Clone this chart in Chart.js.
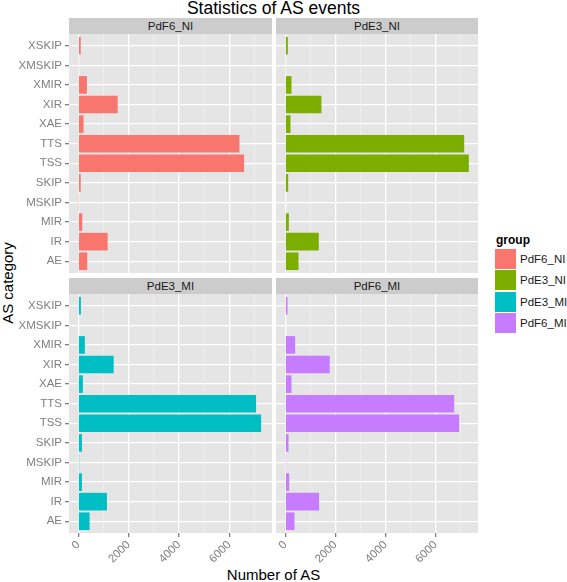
<!DOCTYPE html>
<html>
<head>
<meta charset="utf-8">
<script src="https://cdn.jsdelivr.net/npm/chart.js@4.4.1/dist/chart.umd.min.js"></script>
<style>
  body { margin: 0; width: 567px; height: 582px; position: relative; overflow: hidden; background: #fff;
         font-family: "Liberation Sans", Arial, sans-serif; }
  canvas { position: absolute; }
  .strip { position: absolute; background: #cccccc; color: #1a1a1a; font-size: 11.5px; text-align: center;
           height: 16px; line-height: 16px; }
  .txt { position: absolute; white-space: nowrap; color: #000; }
  .key { position: absolute; left: 495px; width: 21px; height: 20px; }
  .keylbl { position: absolute; left: 520px; font-size: 11.5px; line-height: 20px; color: #1a1a1a; }
</style>
</head>
<body>
<div class="txt" id="title" style="left:0;width:547px;top:0;text-align:center;font-size:17.5px;line-height:17px;">Statistics of AS events</div>
<div class="txt" style="left:0;width:547px;top:567px;text-align:center;font-size:15px;line-height:15px;">Number of AS</div>
<div class="txt" style="left:7px;top:283px;font-size:15px;line-height:15px;transform:translate(-50%,-50%) rotate(-90deg);">AS category</div>

<div class="strip" id="s1" style="left:69px;top:18px;width:203px;"></div>
<div class="strip" id="s2" style="left:276px;top:18px;width:202px;"></div>
<div class="strip" id="s3" style="left:69px;top:278px;width:203px;"></div>
<div class="strip" id="s4" style="left:276px;top:278px;width:202px;"></div>

<canvas id="c1" width="272" height="239" style="left:0;top:34px;"></canvas>
<canvas id="c2" width="202" height="239" style="left:276px;top:34px;"></canvas>
<canvas id="c3" width="272" height="280" style="left:0;top:294px;"></canvas>
<canvas id="c4" width="202" height="280" style="left:276px;top:294px;"></canvas>

<div class="txt" style="left:496px;top:233px;font-size:12px;font-weight:bold;">group</div>
<div id="legend"></div>

<script>
// categories, top to bottom as shown in each facet
const categories = ['XSKIP', 'XMSKIP', 'XMIR', 'XIR', 'XAE', 'TTS', 'TSS', 'SKIP', 'MSKIP', 'MIR', 'IR', 'AE'];

// number of AS events per group
const pdF6NI = [100, 20, 345, 1566, 212, 6400, 6585, 100, 15, 160, 1168, 358];
const pdE3NI = [106, 30, 252, 1447, 212, 7140, 7326, 120, 25, 146, 1340, 531];
const pdE3MI = [106, 25, 265, 1407, 186, 7060, 7260, 146, 40, 146, 1141, 451];
const pdF6MI = [93, 25, 398, 1778, 252, 6742, 6941, 133, 40, 160, 1354, 372];

const groups = ['PdF6_NI', 'PdE3_NI', 'PdE3_MI', 'PdF6_MI'];
const groupColors = ['#F8766D', '#7CAE00', '#00BFC4', '#C77CFF'];

// x grid: labelled major lines and minor lines in between
const xTickLabels = [0, 2000, 4000, 6000];
const xGridValues = [0, 1000, 2000, 3000, 4000, 5000, 6000, 7000];
const xMin = -366, xMax = 7692;

const FONT = '"Liberation Sans", Arial, sans-serif';

// grey panel background like ggplot
const panelBg = {
    id: 'panelBg',
    beforeDraw: function (chart) {
        const a = chart.chartArea;
        const ctx = chart.ctx;
        ctx.save();
        ctx.fillStyle = '#E5E5E5';
        ctx.fillRect(a.left, a.top, a.right - a.left, a.bottom - a.top);
        ctx.restore();
    }
};

function isMajor(v) {
    return xTickLabels.includes(v);
}

function makePanel(canvasId, stripId, group, values, color, showY, showX) {
    document.getElementById(stripId).textContent = group;

    new Chart(document.getElementById(canvasId), {
        type: 'bar',
        data: {
            datasets: [{
                label: group,
                // y = position of the category (0 = top row)
                data: values.map((v, i) => ({ x: v, y: i })),
                backgroundColor: color,
                barPercentage: 0.9,
                categoryPercentage: 1
            }]
        },
        options: {
            indexAxis: 'y',
            responsive: false,
            animation: false,
            layout: { padding: 0 },
            plugins: {
                legend: { display: false },
                tooltip: { enabled: false }
            },
            scales: {
                x: {
                    type: 'linear',
                    min: xMin,
                    max: xMax,
                    border: { display: false },
                    afterBuildTicks: function (s) {
                        s.ticks = xGridValues.map(v => ({ value: v }));
                    },
                    ticks: {
                        display: showX,
                        autoSkip: false,
                        minRotation: 45,
                        maxRotation: 45,
                        padding: 1,
                        color: '#7f7f7f',
                        font: { family: FONT, size: 11.5 },
                        callback: (v) => isMajor(v) ? String(v) : ''
                    },
                    grid: {
                        color: (c) => isMajor(c.tick.value) ? '#ffffff' : '#F2F2F2',
                        lineWidth: (c) => isMajor(c.tick.value) ? 1.3 : 0.7,
                        drawTicks: showX,
                        tickLength: 4,
                        tickColor: (c) => isMajor(c.tick.value) ? '#7f7f7f' : 'rgba(0,0,0,0)'
                    },
                    afterFit: function (s) {
                        s.height = showX ? 41 : 0;
                        s.paddingLeft = 0;
                        s.paddingRight = 0;
                    }
                },
                y: {
                    type: 'linear',
                    reverse: true,
                    offset: false,
                    min: -0.6,
                    max: categories.length - 0.4,
                    border: { display: false },
                    afterBuildTicks: function (s) {
                        s.ticks = categories.map((c, i) => ({ value: i }));
                    },
                    ticks: {
                        display: showY,
                        autoSkip: false,
                        padding: 3,
                        color: '#7f7f7f',
                        font: { family: FONT, size: 11.5 },
                        callback: (v) => categories[v]
                    },
                    grid: {
                        offset: false,
                        color: '#ffffff',
                        lineWidth: 1.3,
                        drawTicks: showY,
                        tickLength: 4,
                        tickColor: '#7f7f7f'
                    },
                    afterFit: function (s) {
                        s.width = showY ? 69 : 0;
                        s.paddingTop = 0;
                        s.paddingBottom = 0;
                    }
                }
            }
        },
        plugins: [panelBg]
    });
}

makePanel('c1', 's1', groups[0], pdF6NI, groupColors[0], true, false);
makePanel('c2', 's2', groups[1], pdE3NI, groupColors[1], false, false);
makePanel('c3', 's3', groups[2], pdE3MI, groupColors[2], true, true);
makePanel('c4', 's4', groups[3], pdF6MI, groupColors[3], false, true);

// legend
const legend = document.getElementById('legend');
groups.forEach(function (g, i) {
    const top = 249 + i * 21.3;
    const key = document.createElement('div');
    key.className = 'key';
    key.style.top = top + 'px';
    key.style.background = groupColors[i];
    legend.appendChild(key);
    const lbl = document.createElement('div');
    lbl.className = 'keylbl';
    lbl.style.top = top + 'px';
    lbl.textContent = g;
    legend.appendChild(lbl);
});
</script>
</body>
</html>
